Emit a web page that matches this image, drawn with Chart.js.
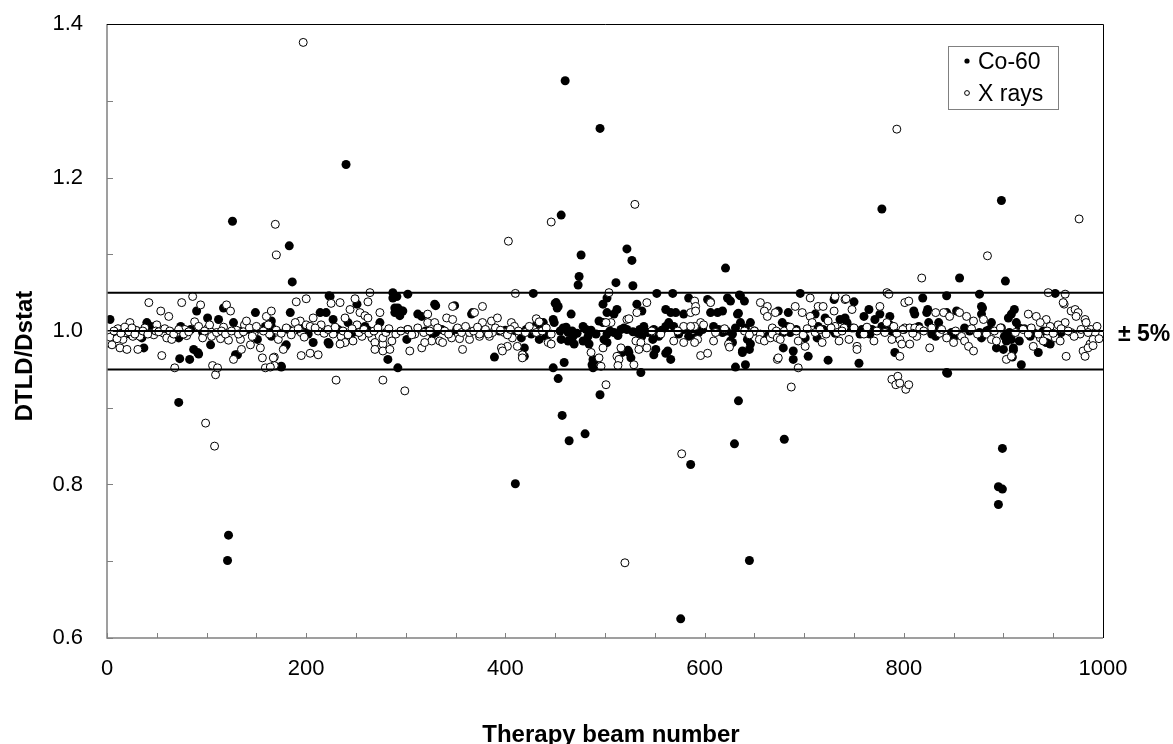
<!DOCTYPE html>
<html>
<head>
<meta charset="utf-8">
<script src="https://cdn.jsdelivr.net/npm/chart.js@4.4.1/dist/chart.umd.min.js"></script>
<style>
  html, body { margin: 0; padding: 0; background: #fff; }
  #wrap { width: 1173px; height: 744px; }
</style>
</head>
<body>
<div id="wrap"><canvas id="chart" width="1173" height="744"></canvas></div>
<script>
// beam number, DTLD/Dstat
const coPoints = [
  [240,1.217],[126,1.143],[183,1.111],[186,1.064],[72,0.907],[122,0.734],[121,0.701],[460,1.326],[495,1.264],[456,1.151],
  [522,1.107],[476,1.099],[527,1.092],[621,1.082],[474,1.071],[473,1.060],[511,1.063],[528,1.059],[410,0.801],[453,0.938],
  [457,0.890],[464,0.857],[480,0.866],[495,0.917],[576,0.625],[586,0.826],[630,0.853],[634,0.909],[645,0.701],[536,0.946],
  [778,1.159],[898,1.170],[856,1.069],[902,1.065],[680,0.859],[899,0.847],[895,0.797],[899,0.794],[895,0.774],[844,0.945],
  [223,1.046],
  [3,1.015],[13,1.002],[23,0.996],[30,1.000],[35,0.991],[37,0.978],[40,1.011],[44,1.006],[72,0.991],[73,0.964],
  [74,1.006],[83,0.963],[84,1.002],[87,0.976],[90,1.026],[91,0.972],[92,0.970],[101,1.017],[104,0.982],[112,1.015],
  [117,1.030],[127,1.011],[129,0.969],[131,0.969],[141,1.002],[149,1.024],[151,0.989],[159,1.006],[175,0.954],[180,0.982],
  [20,1.003],[50,1.001],[96,0.998],[136,1.000],
  [224,1.045],[287,1.050],[291,1.045],[302,1.048],[251,1.035],[292,1.030],[296,1.026],[294,1.020],[289,1.024],[329,1.035],
  [312,1.022],[316,1.019],[214,1.024],[220,1.024],[184,1.024],[227,1.015],[242,1.011],[165,1.013],[165,1.006],[182,1.002],
  [202,0.996],[207,0.985],[222,0.985],[179,0.980],[165,0.993],[259,1.006],[274,1.011],[302,1.002],[301,0.989],[327,0.996],
  [282,0.963],[292,0.952],[175,0.953],[232,1.002],[223,0.983],[287,1.043],[289,1.030],[297,1.026],
  [197,1.003],[247,0.998],[262,1.001],[320,1.000],
  [349,1.033],[330,1.033],[366,1.022],[367,1.024],[428,1.049],[451,1.037],[453,1.032],[448,1.015],[449,1.011],[466,1.022],
  [438,1.011],[431,1.008],[458,1.004],[463,0.998],[468,0.993],[456,0.989],[463,0.987],[469,0.983],[481,1.002],[483,0.993],
  [494,1.013],[498,1.011],[498,1.035],[478,0.987],[484,0.983],[489,0.961],[488,0.952],[389,0.966],[419,0.978],[419,0.967],
  [448,0.952],[459,0.959],[441,0.993],[416,0.991],[434,0.989],[330,0.998],[336,1.002],[351,1.002],[361,1.002],[377,0.998],
  [394,1.000],[407,0.998],[421,1.002],[438,1.006],[478,1.006],[450,1.036],[452,1.030],[487,0.956],[488,0.963],[502,1.043],
  [345,0.996],[373,1.004],[400,1.001],[426,0.996],
  [455,1.000],[461,1.005],[467,1.000],[472,0.997],[486,1.001],[491,0.996],[505,1.000],[513,0.994],[519,1.004],[528,0.999],
  [535,1.002],[543,0.998],[557,1.001],[574,0.996],[588,1.003],[594,0.998],[598,1.002],[622,1.000],[631,1.004],[650,1.000],
  [552,1.049],[568,1.049],[584,1.043],[603,1.041],[606,1.038],[623,1.043],[626,1.039],[636,1.046],[640,1.039],[532,1.035],
  [537,1.026],[512,1.028],[509,1.022],[502,1.024],[561,1.028],[566,1.024],[571,1.024],[579,1.022],[606,1.024],[613,1.024],
  [618,1.026],[633,1.022],[646,1.011],[636,1.011],[641,1.004],[516,1.002],[509,0.998],[502,0.996],[522,1.002],[539,1.006],
  [549,1.002],[554,0.993],[548,0.989],[561,1.006],[564,1.011],[569,1.006],[579,1.002],[584,0.993],[609,1.006],[614,1.002],
  [618,0.998],[628,0.996],[626,0.987],[643,0.989],[646,0.983],[645,0.976],[638,0.974],[551,0.976],[549,0.969],[563,0.974],
  [566,0.963],[517,0.972],[524,0.972],[526,0.965],[631,0.953],[641,0.956],[499,0.989],[502,0.985],[532,0.998],[537,0.993],
  [590,0.991],[663,0.993],[523,0.975],[561,0.971],[638,0.972],[628,0.985],[635,1.047],[634,1.023],
  [696,1.049],[730,1.041],[750,1.038],[765,1.028],[819,1.043],[824,1.028],[823,1.024],[810,1.026],[811,1.022],[835,1.011],
  [674,1.026],[684,1.024],[711,1.022],[721,1.017],[736,1.015],[741,1.017],[760,1.019],[771,1.015],[776,1.022],[786,1.019],
  [678,1.011],[683,1.006],[714,1.006],[719,1.002],[728,1.002],[743,1.011],[748,1.004],[758,1.002],[768,1.002],[778,1.006],
  [756,0.996],[766,0.996],[786,1.008],[788,1.000],[815,1.006],[825,1.011],[832,0.993],[835,1.002],[679,0.998],[686,0.998],
  [701,0.991],[713,0.991],[679,0.978],[689,0.974],[689,0.963],[704,0.967],[724,0.962],[755,0.958],[791,0.972],
  [692,1.002],[731,0.997],[780,1.000],[800,1.002],[828,0.996],
  [843,1.046],[876,1.048],[952,1.049],[878,1.032],[911,1.028],[908,1.022],[905,1.017],[843,1.024],[853,1.026],[888,1.011],
  [886,1.002],[913,1.011],[916,1.004],[898,1.004],[866,1.000],[876,0.998],[878,0.991],[848,0.998],[850,0.991],[901,0.993],
  [906,0.998],[908,0.989],[903,0.987],[916,0.987],[930,0.998],[927,0.993],[943,0.985],[893,0.978],[900,0.976],[910,0.978],
  [935,0.972],[947,0.983],[918,0.956],[843,0.946],[879,1.030],[878,1.022],[909,0.966],[910,0.975],
  [861,1.004],[883,1.000],[921,1.003],[940,1.000],[958,0.998]
];

const xrayPoints = [
  [197,1.376],[169,1.139],[170,1.099],[99,0.880],[108,0.850],[230,0.936],[277,0.936],[299,0.922],[403,1.117],[446,1.142],
  [530,1.165],[520,0.698],[577,0.840],[793,1.263],[976,1.146],[884,1.098],[818,1.069],[687,0.927],[788,0.937],[794,0.941],
  [792,0.930],[796,0.932],[802,0.924],[805,0.930],[501,0.930],
  [0,0.987],[2,0.984],[5,0.982],[8,0.995],[11,1.003],[13,0.978],[16,0.989],[19,0.998],[20,0.976],[23,1.011],
  [26,0.993],[29,1.001],[31,0.976],[33,0.993],[38,1.004],[42,1.037],[45,0.997],[47,0.995],[50,1.008],[54,1.026],
  [55,0.968],[57,0.997],[60,0.991],[62,1.019],[65,0.989],[68,0.952],[70,0.998],[75,1.037],[78,1.002],[80,0.994],
  [86,1.045],[88,1.012],[92,1.006],[94,1.034],[96,0.991],[101,1.003],[104,0.999],[105,0.993],[106,0.955],[109,0.943],
  [111,0.952],[114,0.990],[117,1.005],[120,1.034],[122,0.988],[124,1.026],[127,0.963],[130,1.001],[134,0.989],[135,0.976],
  [138,1.008],[140,1.013],[144,0.982],[148,0.998],[152,1.003],[154,0.978],[156,0.965],[159,0.952],[160,1.019],[163,0.996],
  [168,0.966],[168,0.955],[195,0.968],[204,0.971],[212,0.969],
  [3,0.992],[7,1.000],[10,0.990],[14,0.997],[18,1.005],[22,0.999],[25,1.004],[28,0.996],[36,1.000],[41,0.996],
  [49,1.000],[52,0.999],[58,1.003],[63,1.000],[67,0.996],[72,1.002],[77,0.996],[82,0.999],[98,1.000],[103,1.008],
  [110,0.998],[115,1.000],[119,0.996],[125,1.000],[132,0.996],[137,0.999],[143,1.004],[146,0.993],[150,1.006],[157,1.000],
  [162,1.008],
  [200,1.042],[190,1.038],[225,1.036],[234,1.037],[249,1.042],[264,1.050],[262,1.038],[244,1.028],[254,1.024],[259,1.020],
  [262,1.017],[274,1.024],[165,1.026],[207,1.017],[194,1.013],[189,1.011],[200,1.008],[204,1.006],[215,1.008],[239,1.017],
  [251,1.008],[227,0.996],[235,0.993],[247,0.987],[239,0.985],[256,0.993],[266,0.991],[269,0.985],[277,0.983],[286,0.987],
  [277,0.991],[269,0.976],[277,0.974],[284,0.976],[172,0.989],[177,0.976],[234,0.983],[304,0.974],[316,0.978],[326,0.987],
  [319,0.985],[322,1.011],[329,1.011],[322,1.022],[167,0.965],[164,0.953],[302,1.002],[309,0.996],[187,1.000],[195,0.998],
  [212,1.000],
  [170,1.001],[175,0.997],[180,1.004],[185,0.995],[192,1.003],[198,0.992],[209,1.004],[218,0.997],[222,1.002],[229,1.005],
  [237,1.000],[242,0.995],[246,1.003],[253,0.998],[258,1.002],[263,0.997],[268,1.000],[272,1.004],[280,0.998],[283,1.003],
  [290,0.996],[295,1.000],[306,0.995],[312,1.004],[318,0.998],[324,1.000],[332,1.004],
  [410,1.049],[347,1.032],[377,1.032],[369,1.024],[341,1.017],[347,1.015],[377,1.011],[386,1.013],[392,1.017],[406,1.011],
  [409,1.006],[431,1.016],[434,1.012],[407,0.991],[402,0.980],[396,0.978],[397,0.974],[417,0.969],[417,0.965],[412,0.980],
  [357,0.976],[346,0.991],[354,0.990],[364,0.989],[374,0.993],[384,0.993],[334,0.987],[337,0.985],[443,0.985],[446,0.983],
  [498,0.978],[494,0.965],[496,0.954],[486,0.972],[428,1.002],[431,0.998],[387,0.998],[399,0.998],[364,0.998],[374,0.996],
  [339,1.000],[343,0.996],[352,1.004],[356,0.998],[360,1.006],[368,1.000],[372,1.005],[380,1.002],[383,0.996],[390,1.004],
  [395,1.001],[402,0.995],[405,1.002],[413,1.000],[420,0.998],[424,1.006],[437,1.000],[441,1.004],[446,0.996],
  [504,1.050],[542,1.037],[590,1.039],[591,1.032],[606,1.037],[656,1.037],[663,1.032],[660,1.026],[663,1.019],[532,1.024],
  [522,1.015],[596,1.011],[599,1.008],[590,1.006],[579,1.006],[586,1.006],[650,1.000],[656,0.996],[655,0.989],[660,0.987],
  [666,0.991],[531,0.987],[536,0.985],[542,0.978],[534,0.976],[516,0.978],[512,0.967],[514,0.963],[529,0.956],[609,0.987],
  [593,0.989],[590,0.985],[624,0.983],[596,0.968],[579,0.985],[569,0.987],[586,1.024],[591,1.026],[506,1.011],[501,1.011],
  [513,0.955],[603,0.971],[625,0.979],[524,1.016],
  [547,1.000],[556,0.996],[573,1.000],[611,0.998],[620,1.003],[640,1.000],[645,0.995],[668,1.004],[672,1.000],
  [706,1.043],[731,1.045],[783,1.050],[785,1.048],[801,1.037],[805,1.039],[741,1.041],[691,1.032],[714,1.032],[719,1.032],
  [730,1.026],[748,1.028],[776,1.032],[698,1.024],[706,1.019],[671,1.024],[832,1.024],[708,1.011],[724,1.013],[731,1.006],
  [740,1.004],[783,1.011],[790,1.006],[801,1.004],[806,1.004],[811,1.004],[816,1.003],[668,0.996],[673,0.991],[676,0.989],
  [694,0.987],[701,0.980],[718,0.985],[735,0.987],[745,0.989],[753,0.980],[753,0.976],[770,0.987],[781,0.998],[788,0.989],
  [796,0.989],[798,0.983],[796,0.967],[806,0.983],[813,0.993],[826,0.978],[673,0.963],[674,0.965],[694,0.952],[742,1.042],
  [680,1.000],[686,1.005],[692,1.000],[699,0.995],[703,1.003],[711,0.998],[716,1.002],[722,0.996],[727,1.004],[733,0.998],
  [738,1.000],[750,1.004],[760,0.996],[763,1.005],[773,1.000],[793,0.997],[799,1.002],[809,0.997],[820,1.000],[828,1.004],
  [836,0.997],
  [945,1.050],[962,1.048],[961,1.035],[968,1.026],[972,1.028],[975,1.024],[973,1.019],[962,1.011],[925,1.022],[933,1.019],
  [943,1.015],[937,1.011],[955,1.008],[947,1.006],[982,1.015],[983,1.011],[988,1.002],[992,0.998],[840,1.024],[846,1.019],
  [856,1.024],[863,1.019],[870,1.013],[880,1.015],[838,1.002],[843,0.991],[850,0.985],[858,0.993],[861,0.987],[865,0.980],
  [870,0.974],[883,0.996],[888,0.989],[893,0.987],[903,0.963],[908,0.967],[930,0.980],[937,0.991],[940,0.987],[952,0.991],
  [957,0.987],[963,0.967],[980,0.974],[982,0.967],[987,0.983],[990,0.989],[920,1.002],[925,0.996],[968,0.998],[977,0.996],
  [985,0.978],[990,0.981],[960,1.037],
  [852,1.000],[868,1.003],[874,0.996],[891,1.000],[897,1.004],[912,0.998],[928,1.004],[935,0.996],[944,1.000],[950,0.997],
  [958,1.003],[965,1.000],[971,0.993],[978,1.002],[985,0.998],[994,1.006],[996,0.990]
];

const limitLevels = [0.95, 1.0, 1.05];
const yTickMarks = [0.6, 0.7, 0.8, 0.9, 1.0, 1.1, 1.2, 1.3, 1.4];
const xTickMarks = [0, 50, 100, 150, 200, 250, 300, 350, 400, 450, 500, 550, 600, 650, 700, 750, 800, 850, 900, 950, 1000];
const seriesNames = ['Co-60', 'X rays'];

const FONT = '"Liberation Sans", Arial, sans-serif';

const toXY = arr => arr.map(p => ({ x: p[0], y: p[1] }));

const limitSets = limitLevels.map(l => ({
  data: [{ x: 0, y: l }, { x: 1000, y: l }],
  showLine: true,
  borderColor: '#000',
  borderWidth: 2,
  pointRadius: 0,
  order: 0
}));

// frame, inner ticks, titles, legend
const decor = {
  id: 'decor',
  afterDraw(chart) {
    const { ctx, chartArea: a, scales: { x, y } } = chart;
    ctx.save();
    ctx.strokeStyle = '#808080';
    ctx.lineWidth = 1;
    ctx.beginPath();
    yTickMarks.forEach(v => {
      const py = Math.round(y.getPixelForValue(v)) + 0.5;
      ctx.moveTo(a.left, py); ctx.lineTo(a.left + 6, py);
    });
    xTickMarks.forEach(v => {
      const px = Math.round(x.getPixelForValue(v)) + 0.5;
      ctx.moveTo(px, a.bottom); ctx.lineTo(px, a.bottom - 5);
    });
    ctx.stroke();

    // axes (grey) and the other two sides (black)
    ctx.lineWidth = 1.5;
    ctx.beginPath();
    ctx.moveTo(a.left, a.top); ctx.lineTo(a.left, a.bottom); ctx.lineTo(a.right, a.bottom);
    ctx.stroke();
    ctx.strokeStyle = '#000';
    ctx.lineWidth = 1;
    ctx.beginPath();
    ctx.moveTo(a.left, a.top + 0.5); ctx.lineTo(a.right + 0.5, a.top + 0.5); ctx.lineTo(a.right + 0.5, a.bottom);
    ctx.stroke();

    ctx.fillStyle = '#000';
    ctx.font = 'bold 24px ' + FONT;
    ctx.textAlign = 'center';
    ctx.textBaseline = 'alphabetic';
    ctx.fillText('Therapy beam number', 611, 742);
    ctx.save();
    ctx.translate(32, 356);
    ctx.rotate(-Math.PI / 2);
    ctx.fillText('DTLD/Dstat', 0, 0);
    ctx.restore();

    ctx.textAlign = 'left';
    ctx.font = 'bold 23px ' + FONT;
    ctx.fillText('\u00b1 5%', 1118, y.getPixelForValue(1.0) + 10);

    // legend box
    ctx.fillStyle = '#fff';
    ctx.fillRect(948, 46, 110, 63);
    ctx.strokeStyle = '#808080';
    ctx.lineWidth = 1;
    ctx.strokeRect(948.5, 46.5, 110, 63);
    ctx.fillStyle = '#000';
    ctx.beginPath(); ctx.arc(967, 61, 2.6, 0, Math.PI * 2); ctx.fill();
    ctx.beginPath(); ctx.arc(967, 93, 2.4, 0, Math.PI * 2);
    ctx.strokeStyle = '#000'; ctx.stroke();
    ctx.font = '23px ' + FONT;
    ctx.fillText(seriesNames[0], 978, 69);
    ctx.fillText(seriesNames[1], 978, 101);
    ctx.restore();
  }
};

new Chart(document.getElementById('chart'), {
  type: 'scatter',
  data: {
    datasets: [
      ...limitSets,
      {
        label: seriesNames[1],
        data: toXY(xrayPoints),
        pointRadius: 4,
        backgroundColor: '#fff',
        borderColor: '#000',
        borderWidth: 1,
        order: 1
      },
      {
        label: seriesNames[0],
        data: toXY(coPoints),
        pointRadius: 4.5,
        backgroundColor: '#000',
        borderColor: '#000',
        borderWidth: 0,
        order: 2
      }
    ]
  },
  options: {
    responsive: false,
    animation: false,
    devicePixelRatio: 1,
    layout: { padding: { top: 24, right: 70, left: 0, bottom: 0 } },
    plugins: { legend: { display: false }, tooltip: { enabled: false } },
    scales: {
      x: {
        type: 'linear',
        min: 0,
        max: 1000,
        grid: { display: false, drawTicks: false },
        border: { display: false },
        ticks: { stepSize: 200, color: '#000', font: { size: 22, family: FONT }, padding: 18, maxRotation: 0,
                 callback: v => String(v) },
        afterFit: s => { s.height = 106; s.paddingLeft = 0; s.paddingRight = 0; }
      },
      y: {
        min: 0.6,
        max: 1.4,
        grid: { display: false, drawTicks: false },
        border: { display: false },
        ticks: { stepSize: 0.2, color: '#000', font: { size: 22, family: FONT }, padding: 24,
                 callback: v => v.toFixed(1) },
        afterFit: s => { s.width = 107; s.paddingTop = 0; s.paddingBottom = 0; }
      }
    }
  },
  plugins: [decor]
});
</script>
</body>
</html>
